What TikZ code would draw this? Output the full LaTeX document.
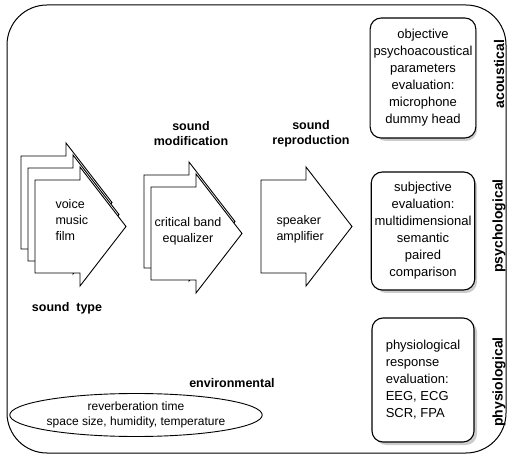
\documentclass[tikz,border=0pt]{standalone}
\usepackage{fontspec}
\setmainfont{Liberation Sans}
\usetikzlibrary{positioning,shapes.geometric}

\begin{document}
\begin{tikzpicture}[x=1pt, y=-1pt]
\tikzset{
  sheet/.pic={\draw[line width=0.9pt, fill=white, line join=miter]
    (0,0) -- (45,0) -- (45,-13) -- (91,46.5) -- (45,106) -- (45,93) -- (0,93) -- cycle;},
  frame/.style={draw, line width=1pt, rounded corners=40pt},
  evalbox/.style={rectangle, rounded corners=11pt, draw, line width=1.1pt, fill=white,
    minimum width=102pt, align=center, font=\fontsize{13}{17}\selectfont},
  evalshadow/.style={rectangle, rounded corners=11pt, fill=gray!40, minimum width=102pt},
  sidelbl/.style={rotate=90, font=\fontsize{14}{16}\selectfont\bfseries},
  heading/.style={align=center, font=\fontsize{12.5}{15}\selectfont\bfseries},
  sheettxt/.style={align=left, font=\fontsize{12.5}{16}\selectfont},
  envbox/.style={ellipse, draw, line width=0.9pt, minimum width=222pt, minimum height=43pt,
    inner sep=0pt, align=center, font=\fontsize{12}{15}\selectfont}
}
\useasboundingbox (0,0) rectangle (509,462);
\draw[frame] (7,5) rectangle (506,453);

% sound type
\pic at (21,156) {sheet};
\pic at (28,168) {sheet};
\pic at (35,180) {sheet};
\node[sheettxt, anchor=west] (type) at (52,220) {voice\\music\\film};
\node[heading] (typelbl) at (67,308) {sound\ \ type};

% sound modification
\pic at (144,175) {sheet};
\pic at (151,187) {sheet};
\node[sheettxt, align=center] (equal) at (188,231) {critical band\\equalizer};
\node[heading] (modlbl) at (191,134) {sound\\modification};

% sound reproduction
\pic at (261,180) {sheet};
\node[sheettxt, anchor=west] (speak) at (273,229) {speaker\\amplifier};
\node[heading] (replbl) at (311,134) {sound\\reproduction};

% environment
\node[heading] (envlbl) at (232,383) {environmental};
\node[envbox] (env) at (136,415) {reverberation time\\space size, humidity, temperature};

% evaluation (shadows first)
\node[evalshadow, minimum height=120pt] (acoushd) at (426,81) {};
\node[evalshadow, minimum height=118pt] (psychshd) at (426,234) {};
\node[evalshadow, minimum height=124pt] (physshd) at (426,383) {};
\node[evalbox, minimum height=120pt] (acou) at (423,78)
  {objective\\psychoacoustical\\parameters\\evaluation:\\microphone\\dummy head};
\node[evalbox, minimum height=118pt] (psych) at (423,231)
  {subjective\\evaluation:\\multidimensional\\semantic\\paired\\comparison};
\node[evalbox, minimum height=124pt, align=left] (phys) at (423,380)
  {physiological\\response\\evaluation:\\EEG, ECG\\SCR, FPA};
\node[sidelbl] (acoulbl) at (499,74) {acoustical};
\node[sidelbl] (psychlbl) at (499,226) {psychological};
\node[sidelbl] (physlbl) at (499,382) {physiological};
\end{tikzpicture}
\end{document}
